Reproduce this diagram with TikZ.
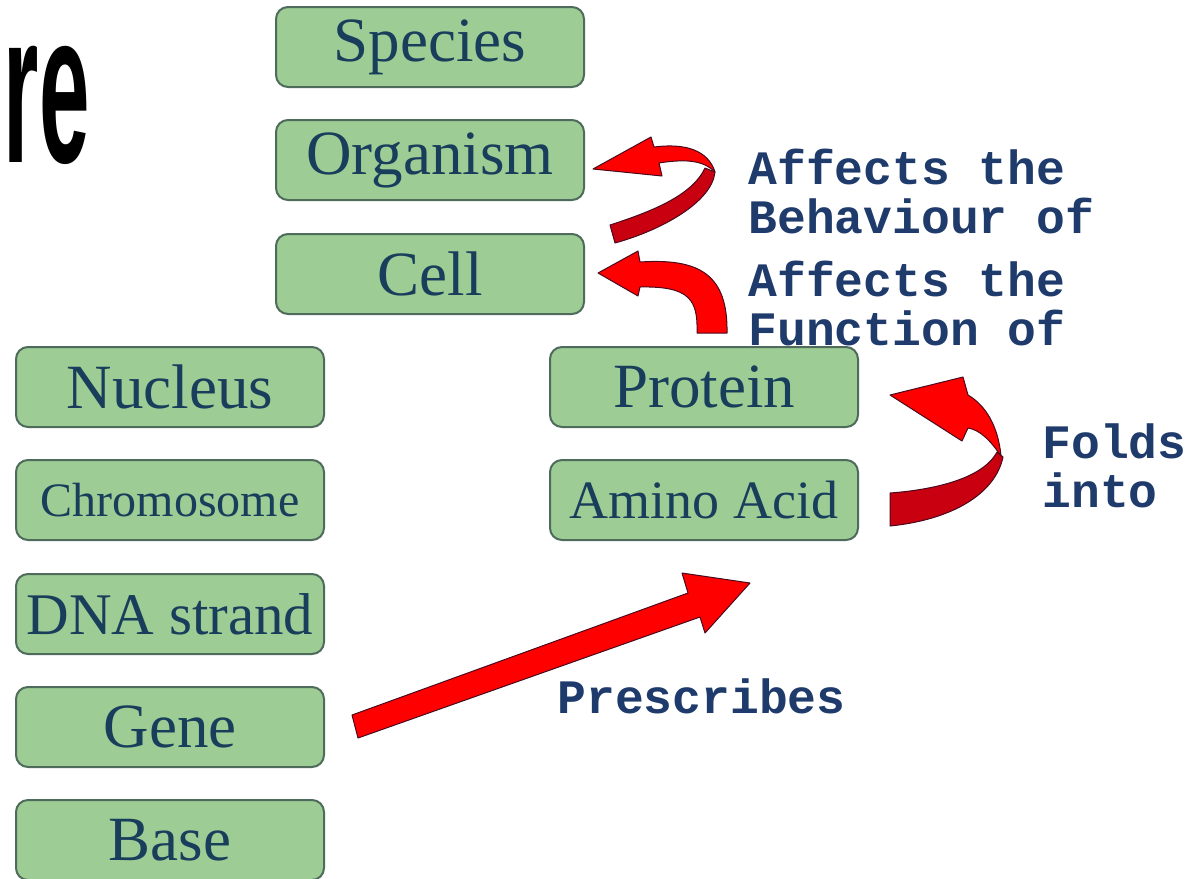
\documentclass[tikz,border=0pt]{standalone}
\usepackage{fontspec}
\setmainfont{Liberation Serif}
\newfontfamily\labelfont{Liberation Mono}
\newfontfamily\titlefont{Liberation Sans}
\definecolor{boxfill}{HTML}{9DCC95}
\definecolor{boxline}{HTML}{4E6B5C}
\definecolor{boxtext}{HTML}{183E5C}
\definecolor{labeltext}{HTML}{1F3B6B}
\definecolor{arrowred}{HTML}{FF0000}
\definecolor{arrowdark}{HTML}{C8000F}
\definecolor{arrowedge}{HTML}{4A0A1E}
\tikzset{
  box/.style={draw=boxline, fill=boxfill, line width=1pt, rounded corners=6pt,
    minimum width=154pt, minimum height=40pt, inner sep=0pt, text=boxtext,
    font=\fontsize{31.5}{36}\selectfont},
  effect/.style={align=left, inner sep=0pt, anchor=west, text=labeltext,
    font=\labelfont\bfseries\fontsize{24}{24.5}\selectfont},
  frontarrow/.style={fill=arrowred, draw=arrowedge, line width=0.5pt, line join=round},
  backarrow/.style={fill=arrowdark, draw=arrowedge, line width=0.5pt, line join=round},
}
\begin{document}
\begin{tikzpicture}[x=0.5pt, y=-0.5pt]
  \useasboundingbox (0,0) rectangle (1186,878);
  % title fragment, cut at the page edge
  \node[anchor=base east, inner sep=0pt] (title) at (90,162)
    {\titlefont\bfseries\fontsize{108}{108}\selectfont\scalebox{0.42}[1]{re}};
  % upper column
  \node[box] (species) at (430,47) {Species};
  \node[box] (organism) at (430,160) {Organism};
  \node[box] (cell) at (430,274) {Cell};
  % left column
  \node[box] (nucleus) at (170,387) {Nucleus};
  \node[box, font=\fontsize{24}{28}\selectfont] (chromosome) at (170,500) {Chromosome};
  \node[box, font=\fontsize{29.5}{34}\selectfont] (dna) at (170,614) {DNA strand};
  \node[box] (gene) at (170,727) {Gene};
  \node[box] (base) at (170,840) {Base};
  % right column
  \node[box] (protein) at (704,387) {Protein};
  \node[box, font=\fontsize{27}{32}\selectfont] (amino) at (704,500) {Amino Acid};
  % cell -> organism (twisted)
  \draw[backarrow] (610,225) .. controls (650,212) and (692,196) .. (705,168)
    -- (715,172) .. controls (712,202) and (662,230) .. (615,243) -- cycle;
  \draw[frontarrow] (593,169) -- (651,137) -- (654,147)
    .. controls (685,143) and (708,150) .. (715,172)
    .. controls (705,162) and (690,158) .. (659,163) -- (662,176) -- cycle;
  % protein -> cell
  \draw[frontarrow] (598,273) -- (638,251) -- (640,262)
    .. controls (700,258) and (728,275) .. (727,333) -- (697,333)
    .. controls (698,300) and (690,286) .. (640,287) -- (638,296) -- cycle;
  % amino acid -> protein (twisted)
  \draw[backarrow] (890,493) .. controls (930,490) and (982,480) .. (997,452)
    -- (1003,457) .. controls (995,495) and (950,520) .. (890,526) -- cycle;
  \draw[frontarrow] (890,395) -- (963,377) -- (968,395)
    .. controls (985,405) and (998,425) .. (1001,456)
    .. controls (990,440) and (980,430) .. (968,428) -- (962,441) -- cycle;
  % gene -> amino acid
  \draw[frontarrow] (352,715) -- (688,593) -- (682,573) -- (750,583)
    -- (705,633) -- (700,617) -- (358,738) -- cycle;
  % labels
  \node[effect] (behaviour) at (748,191) {Affects the\\Behaviour of};
  \node[effect] (function) at (748,303) {Affects the\\Function of};
  \node[effect] (folds) at (1042,466) {Folds\\into};
  \node[effect, anchor=base west] (prescribes) at (557,713) {Prescribes};
\end{tikzpicture}
\end{document}
